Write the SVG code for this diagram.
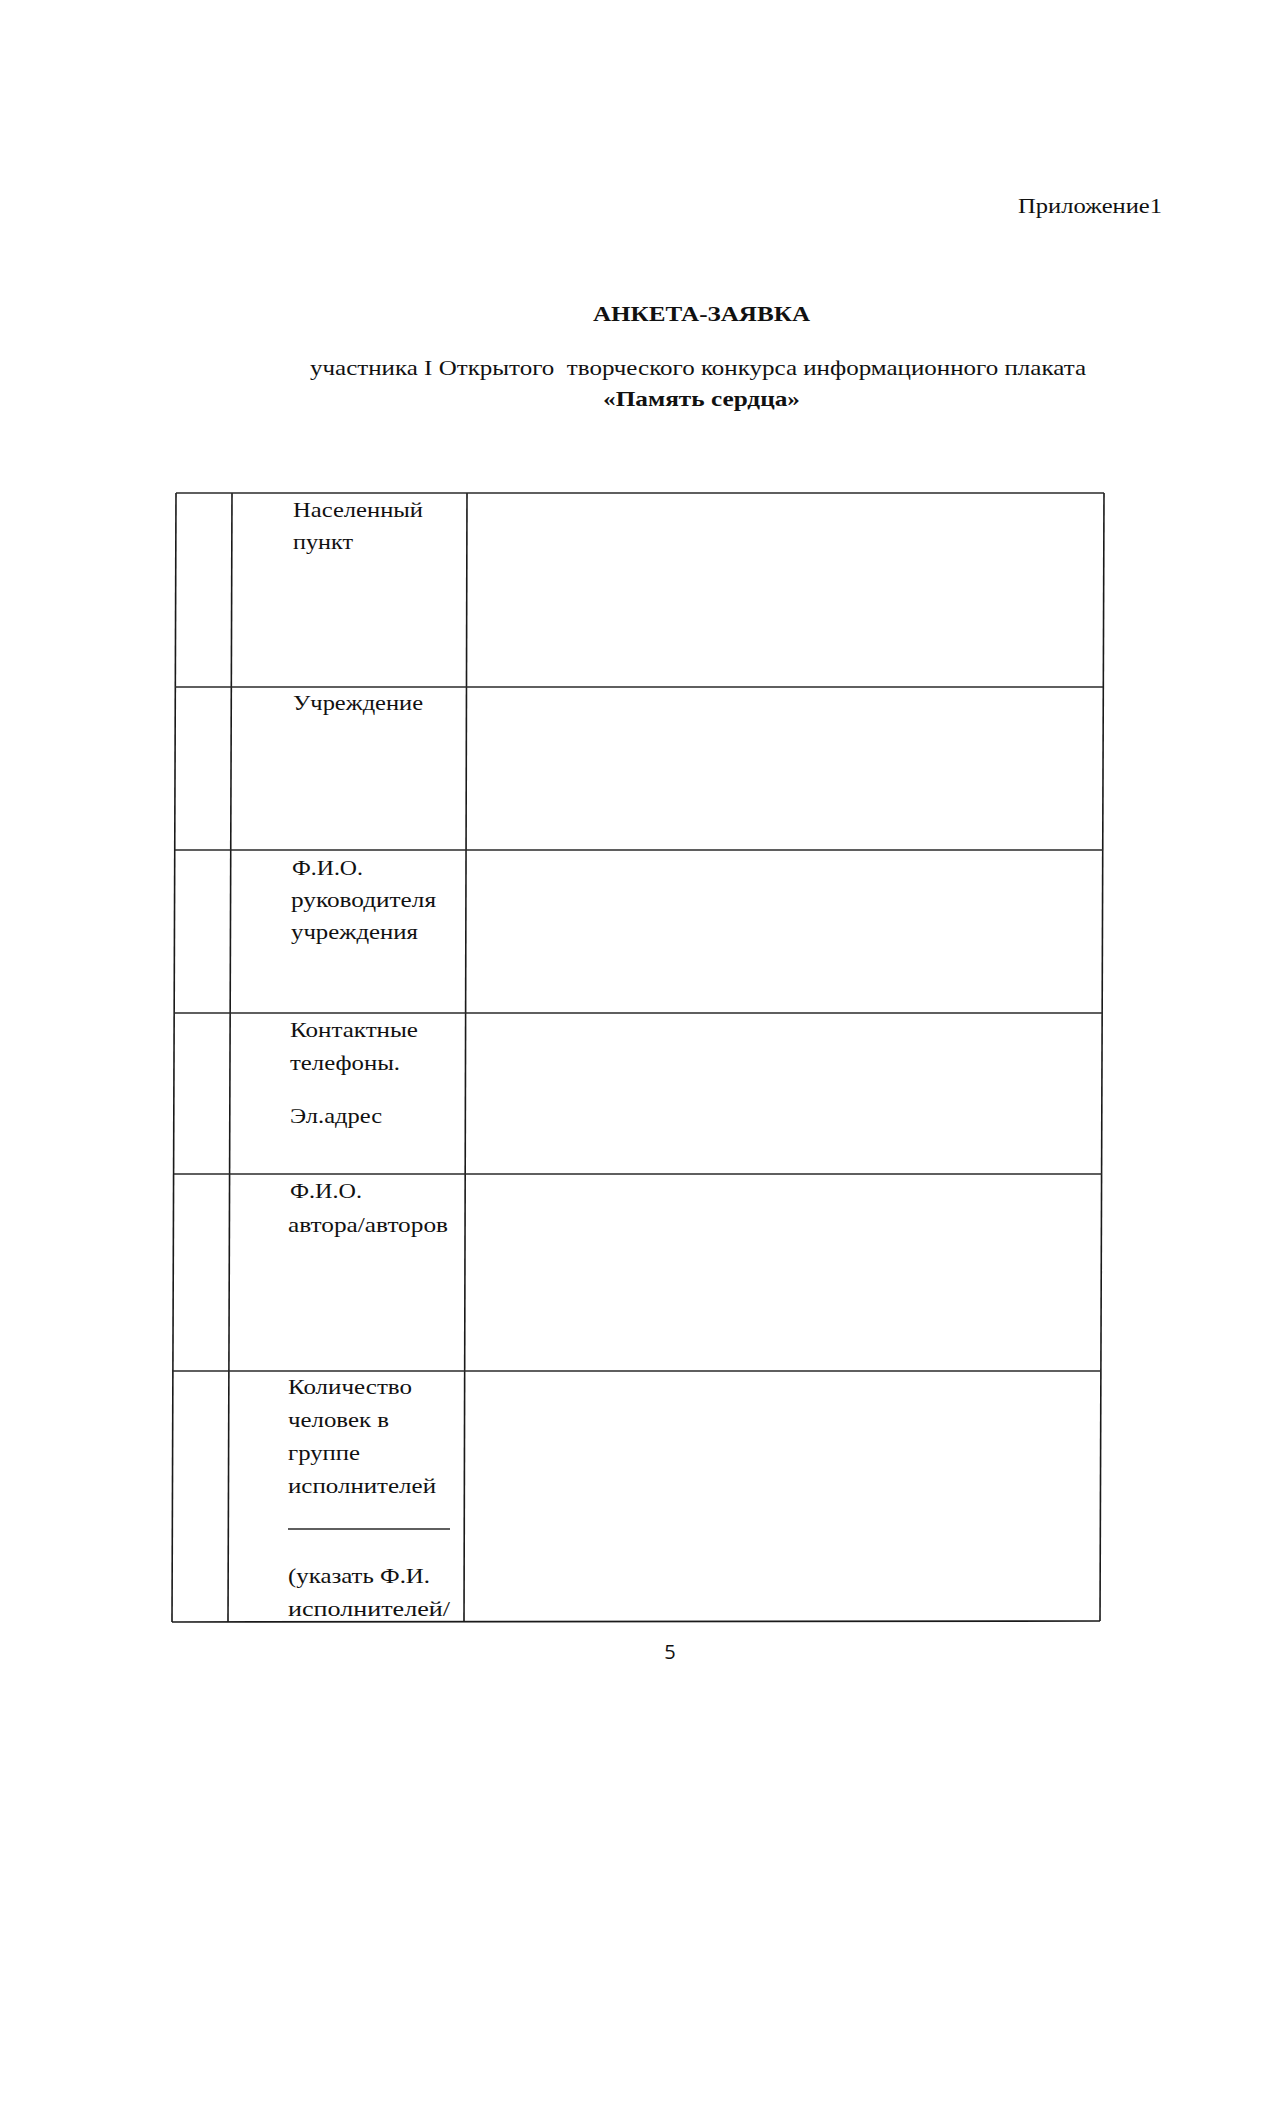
<svg xmlns="http://www.w3.org/2000/svg" width="1277" height="2101" viewBox="0 0 1277 2101">
<style>
  text { font-family: "Liberation Serif", "Times New Roman", serif; font-size: 22px; fill: #111; }
  .b { font-weight: bold; }
  .pn { font-family: "Open Sans", "Liberation Sans", sans-serif; font-size: 20px; }
  .ln { stroke: #1a1a1a; stroke-width: 1.6; fill: none; }
  .hl { stroke: #2a2a2a; stroke-width: 1.5; fill: none; }
</style>
<rect width="1277" height="2101" fill="#ffffff"/>

<g id="header">
  <text x="1018" y="213" textLength="144" lengthAdjust="spacingAndGlyphs">Приложение1</text>
  <text class="b" x="593" y="321" textLength="217" lengthAdjust="spacingAndGlyphs">АНКЕТА-ЗАЯВКА</text>
  <text x="310" y="375" textLength="776" lengthAdjust="spacingAndGlyphs" xml:space="preserve">участника I Открытого  творческого конкурса информационного плаката</text>
  <text class="b" x="603" y="406" textLength="197" lengthAdjust="spacingAndGlyphs">«Память сердца»</text>
</g>

<g id="table-lines">
  <!-- outer and column lines (slightly skewed as scanned) -->
  <line class="ln" x1="176" y1="493" x2="172" y2="1622"/>
  <line class="ln" x1="232" y1="493" x2="228" y2="1622"/>
  <line class="ln" x1="467" y1="493" x2="464" y2="1622"/>
  <line class="ln" x1="1104" y1="493" x2="1100" y2="1621"/>
  <!-- row lines -->
  <line class="hl" x1="176" y1="493" x2="1104" y2="493"/>
  <line class="hl" x1="175" y1="687" x2="1103" y2="687"/>
  <line class="hl" x1="175" y1="850" x2="1103" y2="850"/>
  <line class="hl" x1="174" y1="1013" x2="1102" y2="1013"/>
  <line class="hl" x1="174" y1="1174" x2="1102" y2="1174"/>
  <line class="hl" x1="173" y1="1371" x2="1101" y2="1371"/>
  <line class="ln" x1="172" y1="1622" x2="1100" y2="1621"/>
</g>

<g id="row1">
  <text x="293" y="517" textLength="130" lengthAdjust="spacingAndGlyphs">Населенный</text>
  <text x="293" y="549" textLength="60" lengthAdjust="spacingAndGlyphs">пункт</text>
</g>
<g id="row2">
  <text x="293" y="710" textLength="130" lengthAdjust="spacingAndGlyphs">Учреждение</text>
</g>
<g id="row3">
  <text x="292" y="875" textLength="71" lengthAdjust="spacingAndGlyphs">Ф.И.О.</text>
  <text x="291" y="907" textLength="145" lengthAdjust="spacingAndGlyphs">руководителя</text>
  <text x="291" y="939" textLength="127" lengthAdjust="spacingAndGlyphs">учреждения</text>
</g>
<g id="row4">
  <text x="290" y="1037" textLength="128" lengthAdjust="spacingAndGlyphs">Контактные</text>
  <text x="290" y="1070" textLength="110" lengthAdjust="spacingAndGlyphs">телефоны.</text>
  <text x="290" y="1123" textLength="92" lengthAdjust="spacingAndGlyphs">Эл.адрес</text>
</g>
<g id="row5">
  <text x="290" y="1198" textLength="72" lengthAdjust="spacingAndGlyphs">Ф.И.О.</text>
  <text x="288" y="1232" textLength="160" lengthAdjust="spacingAndGlyphs">автора/авторов</text>
</g>
<g id="row6">
  <text x="288" y="1394" textLength="124" lengthAdjust="spacingAndGlyphs">Количество</text>
  <text x="288" y="1427" textLength="101" lengthAdjust="spacingAndGlyphs">человек в</text>
  <text x="288" y="1460" textLength="72" lengthAdjust="spacingAndGlyphs">группе</text>
  <text x="288" y="1493" textLength="148" lengthAdjust="spacingAndGlyphs">исполнителей</text>
  <line class="hl" x1="288" y1="1529" x2="450" y2="1529"/>
  <text x="288" y="1583" textLength="142" lengthAdjust="spacingAndGlyphs">(указать Ф.И.</text>
  <text x="288" y="1616" textLength="162" lengthAdjust="spacingAndGlyphs">исполнителей/</text>
</g>

<g id="page-number">
  <text class="pn" x="670" y="1659" text-anchor="middle">5</text>
</g>
</svg>
